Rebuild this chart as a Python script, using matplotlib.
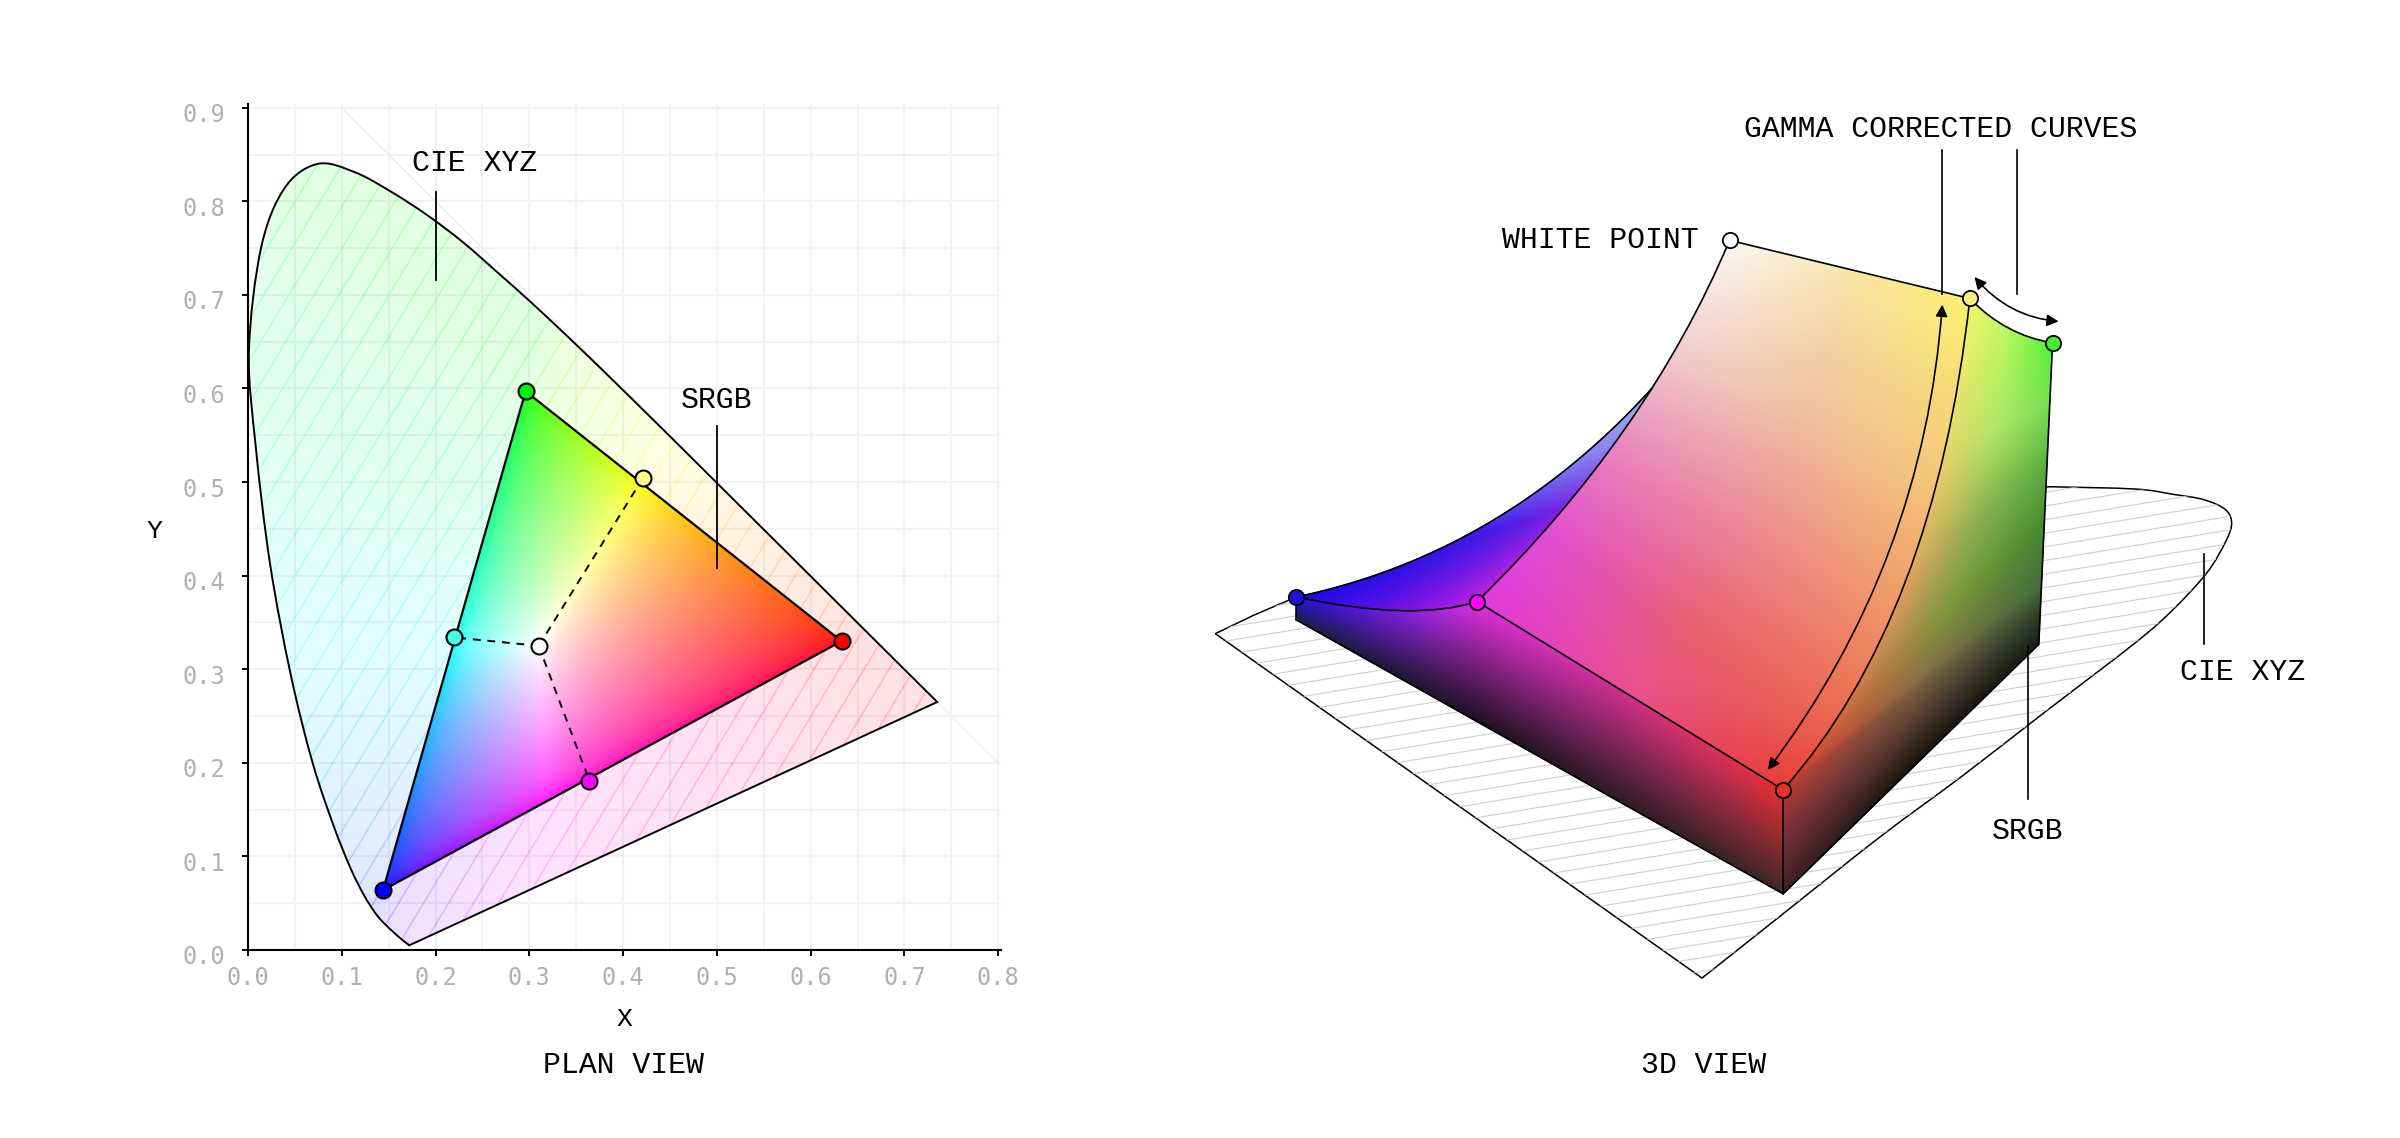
import numpy as np
import matplotlib
matplotlib.use("Agg")
import matplotlib.pyplot as plt
from matplotlib.colors import to_rgb
from matplotlib.path import Path
from matplotlib.patches import PathPatch, Polygon, FancyArrowPatch
from matplotlib.transforms import ScaledTranslation

plt.rcParams['font.family'] = ['Liberation Mono', 'DejaVu Sans Mono']

# plan view, values
locus_x = [0.172, 0.1644, 0.1566, 0.1440, 0.1355, 0.1241, 0.1096, 0.0913, 0.0687, 0.0454, 0.0235, 0.0082, 0.0010,
           0.0139, 0.0389, 0.0743, 0.1142, 0.1547, 0.1929, 0.2296, 0.2658, 0.3016, 0.3373, 0.3731, 0.4087,
           0.4441, 0.4788, 0.5125, 0.5752, 0.6270, 0.6915, 0.7350]
locus_y = [0.005, 0.0109, 0.0177, 0.0297, 0.0399, 0.0578, 0.0868, 0.1327, 0.2007, 0.2950, 0.4127, 0.5384, 0.6400,
           0.7502, 0.8140, 0.8400, 0.8310, 0.8090, 0.7840, 0.7560, 0.7243, 0.6923, 0.6589, 0.6245, 0.5896,
           0.5547, 0.5202, 0.4866, 0.4242, 0.3725, 0.3083, 0.2650]
primary_x = [0.633, 0.296, 0.144]
primary_y = [0.330, 0.597, 0.064]
primary_colors = ['#ff0000', '#00f000', '#0000ff']
white_xy = [0.310, 0.325]
secondary_x = [0.421, 0.220, 0.364]
secondary_y = [0.504, 0.334, 0.181]
secondary_colors = ['#ffff88', '#40ffe8', '#ff00ff']
x_ticks = [0.0, 0.1, 0.2, 0.3, 0.4, 0.5, 0.6, 0.7, 0.8]
y_ticks = [0.0, 0.1, 0.2, 0.3, 0.4, 0.5, 0.6, 0.7, 0.8, 0.9]

# 3D view, corner positions read in picture units (1568 wide)
B = np.array([847.0, 390.0])
M = np.array([965.0, 393.0])
R = np.array([1165.0, 516.0])
Y = np.array([1287.0, 195.0])
G = np.array([1341.0, 224.0])
W = np.array([1130.0, 157.0])
B0 = np.array([847.0, 405.0])
R0 = np.array([1165.0, 584.0])
G0 = np.array([1332.0, 421.0])
C_WM = np.array([1076.0, 285.0])
C_BP = np.array([981.0, 362.0])
C_BM = np.array([924.0, 406.5])
C_RY = np.array([1264.0, 404.0])
C_YG = np.array([1310.0, 219.0])
floor_x = [847, 819, 794, 1112, 1165, 1228, 1282, 1335, 1395, 1420, 1442, 1454, 1458, 1454, 1440, 1420, 1395, 1339]
floor_y = [390, 402, 414, 639, 597, 547, 507, 466, 420, 398, 374, 354, 342, 333, 326.5, 323, 319.5, 318]

# colour stops on the 3D faces, rows run down each face
face_v = [0, 0.3, 0.6, 0.8, 1]
face_left = ['#fdf8f4', '#f0cccc', '#e878c0', '#e04cd8', '#e038e0']
face_mid = ['#f8e4a8', '#f0c0a0', '#ec8090', '#e86070', '#e85090']
face_right = ['#faf070', '#f5c878', '#f09060', '#ec6a50', '#e83c34']
wall_v = [0, 0.2, 0.4, 0.6, 0.8, 0.9, 1]
wall_left = ['#f2f86e', '#e8d868', '#e0a860', '#d08050', '#d84030', '#803038', '#402028']
wall_mid = ['#b8f860', '#b0e868', '#8cb050', '#7c9a3c', '#8a7048', '#5a4030', '#181410']
wall_right = ['#50f038', '#78e050', '#5cb040', '#488a30', '#44703a', '#2e3e2a', '#181c18']


def smooth(px, py):
    # catmull-rom through the read points, as bezier segments
    p = np.column_stack([px, py]).astype(float)
    verts = [p[0]]
    codes = [Path.MOVETO]
    for i in range(len(p) - 1):
        a = p[max(i - 1, 0)]
        b = p[i]
        c = p[i + 1]
        d = p[min(i + 2, len(p) - 1)]
        verts += [b + (c - a) / 6, c - (d - b) / 6, c]
        codes += [Path.CURVE4] * 3
    return Path(np.array(verts), codes)


def closed(path):
    return Path(np.vstack([path.vertices, path.vertices[0]]), list(path.codes) + [Path.CLOSEPOLY])


def bez(p0, c, p1, t):
    t = np.asarray(t)[:, None]
    return (1 - t) ** 2 * p0 + 2 * t * (1 - t) * c + t ** 2 * p1


def grad(pos, hexes, t):
    rgb = np.array([to_rgb(h) for h in hexes])
    return np.column_stack([np.interp(t, pos, rgb[:, k]) for k in range(3)])


def bez_path(p0, c, p1):
    return Path([p0, c, p1], [Path.MOVETO, Path.CURVE3, Path.CURVE3])


def blend(left, right, top=None):
    # mesh between two edges, the top row is pulled onto the top curve
    nr, nc = len(left), 70
    u = np.linspace(0, 1, nc)[None, :, None]
    pts = left[:, None, :] * (1 - u) + right[:, None, :] * u
    if top is not None:
        v = np.linspace(0, 1, nr)[:, None, None]
        pts = pts + (top - pts[0])[None, :, :] * (1 - v) ** 3
    return pts


def mix3(cl, cm, cr):
    u = np.linspace(0, 1, 70)[None, :, None]
    a = np.clip(u * 2, 0, 1)
    b = np.clip(u * 2 - 1, 0, 1)
    return (cl[:, None, :] * (1 - a) + cm[:, None, :] * a) * (1 - b) + cr[:, None, :] * b


fig = plt.figure(figsize=(24, 11.38), dpi=100)

# ---- plan view, axes run a little past the last ticks
ax = fig.add_axes([248 / 2400, 188 / 1138, 753 / 2400, 846 / 1138])
ax.set_xlim(0, 0.803)
ax.set_ylim(0, 0.904)
ax.set_xticks(x_ticks)
ax.set_yticks(y_ticks)
ax.set_xticks(np.arange(0.05, 0.8, 0.1), minor=True)
ax.set_yticks(np.arange(0.05, 0.9, 0.1), minor=True)
ax.grid(which='both', color='#f2f2f2', lw=1.5, zorder=0)
ax.set_axisbelow(True)
ax.tick_params(which='minor', length=0)
ax.tick_params(which='major', length=4.5, width=1.4, color='black', labelsize=17, labelcolor='#b0b0b0')
ax.tick_params(axis='x', which='major', pad=7)
ax.tick_params(axis='y', which='major', pad=12)
ax.set_xticklabels([f"{v:.1f}" for v in x_ticks], family='DejaVu Sans Mono')
ax.set_yticklabels([f"{v:.1f}" for v in y_ticks], family='DejaVu Sans Mono')
for lbl in ax.get_yticklabels():
    lbl.set_transform(lbl.get_transform() + ScaledTranslation(0, -5 / 100, fig.dpi_scale_trans))
for side in ['top', 'right']:
    ax.spines[side].set_visible(False)
for side in ['left', 'bottom']:
    ax.spines[side].set_linewidth(1.5)
ax.plot([0.1, 0.8], [0.9, 0.2], color='#eeeeee', lw=1, zorder=1)

# chromaticity to display colour, the matrix comes from the read primaries
xs = np.linspace(0, 0.803, 1500)
ys = np.linspace(0.0005, 0.904, 1690)
gx, gy = np.meshgrid(xs, ys)
P = np.array([primary_x, primary_y, 1 - np.array(primary_x) - np.array(primary_y)])
wp = np.array([white_xy[0] / white_xy[1], 1, (1 - white_xy[0] - white_xy[1]) / white_xy[1]])
S = np.linalg.solve(P, wp)
to_lin = np.linalg.inv(P * S)
xyz = np.stack([gx / gy, np.ones_like(gx), (1 - gx - gy) / gy], axis=-1)
lin = xyz @ to_lin.T
lin = np.clip(lin, 0, None)
lin = lin / np.maximum(lin.max(axis=-1, keepdims=True), 1e-6)
rgb = lin ** (1 / 2.2)

# pale fill outside the triangle with a hatch of the same colour
d = np.mod(gx * 937 - gy * 937 * 0.6, 25)
stripe = np.clip(1.1 - np.abs(d - 22), 0, 1) + np.clip(1.1 - np.abs(d + 3), 0, 1)
tint = np.dstack([rgb, 0.12 + 0.26 * stripe])
locus_closed = closed(smooth(locus_x, locus_y))
extent = [0, 0.803, 0, 0.904]
im = ax.imshow(tint, extent=extent, origin='lower', aspect='auto', zorder=2, interpolation='bilinear')
clip_patch = PathPatch(locus_closed, fc='none', ec='none', transform=ax.transData)
ax.add_patch(clip_patch)
im.set_clip_path(clip_patch)

tri = np.column_stack([primary_x, primary_y])
tri_im = ax.imshow(rgb, extent=extent, origin='lower', aspect='auto', zorder=3, interpolation='bilinear')
tri_patch = Polygon(tri, closed=True, fc='none', ec='black', lw=1.6, zorder=4)
ax.add_patch(tri_patch)
tri_im.set_clip_path(tri_patch)
ax.add_patch(PathPatch(locus_closed, fc='none', ec='black', lw=1.4, zorder=4))
ax.set_xlim(0, 0.803)
ax.set_ylim(0, 0.904)

for sx, sy in zip(secondary_x, secondary_y):
    ax.plot([white_xy[0], sx], [white_xy[1], sy], color='black', lw=1.4, dashes=(4, 3.5), zorder=5)
for px, py, c in zip(primary_x + secondary_x + [white_xy[0]], primary_y + secondary_y + [white_xy[1]],
                     primary_colors + secondary_colors + ['white']):
    ax.plot(px, py, 'o', ms=11.5, mfc=c, mec='black', mew=1.5, zorder=6, clip_on=False)

ax.plot([0.2, 0.2], [0.81, 0.716], color='black', lw=1.3, zorder=7)
ax.plot([0.5, 0.5], [0.56, 0.408], color='black', lw=1.3, zorder=7)
ax.text(0.242, 0.841, "CIE XYZ", fontsize=21.5, ha='center', va='center', zorder=7)
ax.text(0.5, 0.588, "SRGB", fontsize=21.5, ha='center', va='center', zorder=7)

# ---- 3D view, drawn on an overlay in picture units
ov = fig.add_axes([0, 0, 1, 1], facecolor='none')
ov.set_xlim(0, 1568)
ov.set_ylim(743.5, 0)
ov.axis('off')

fl_main = smooth(floor_x[3:], floor_y[3:])
fl_verts = np.vstack([[[floor_x[0], floor_y[0]], [floor_x[1], floor_y[1]], [floor_x[2], floor_y[2]]], fl_main.vertices,
                      [floor_x[0], floor_y[0]]])
fl_codes = [Path.MOVETO, Path.LINETO, Path.LINETO, Path.LINETO] + list(fl_main.codes[1:]) + [Path.CLOSEPOLY]
floor_patch = PathPatch(Path(fl_verts, fl_codes), fc='white', ec='black', lw=1.1, zorder=1)
ov.add_patch(floor_patch)
for y0 in np.arange(300, 900, 8.9):
    ln, = ov.plot([760, 1500], [y0 + 60 * 0.165, y0 - 680 * 0.165], color='#cfcfcf', lw=0.8, zorder=1.1)
    ln.set_clip_path(floor_patch)

n = 70
t = np.linspace(0, 1, n)
u = np.linspace(0, 1, 70)[None, :, None]

# blue sliver behind the main face
t_wm = np.linspace(1, 0.39, n)
right = bez(W, C_WM, M, t_wm)
P_top = right[-1]
left = bez(B, C_BP, P_top, t)
pts = blend(left, right, bez(B, C_BM, M, t))
cl = grad([0, 0.45, 0.75, 1], ['#1c08e6', '#3a18e8', '#7f7cf0', '#aab8f0'], t)
cr = grad([0, 0.45, 0.75, 1], ['#d020e0', '#7a22e6', '#8f86ee', '#aab8f0'], t)
cols = cl[:, None, :] * (1 - u) + cr[:, None, :] * u
ov.pcolormesh(pts[..., 0], pts[..., 1], cols, shading='gouraud', zorder=2)

# main face white, yellow, red, magenta
pts = blend(bez(W, C_WM, M, t), bez(Y, C_RY, R, t))
cols = mix3(grad(face_v, face_left, t), grad(face_v, face_mid, t), grad(face_v, face_right, t))
ov.pcolormesh(pts[..., 0], pts[..., 1], cols, shading='gouraud', zorder=3)

# front wall
s_m = (M[0] - B[0]) / (R[0] - B[0])
s = np.linspace(0, 1, 70)
top = np.zeros((70, 2))
mask = s <= s_m
top[mask] = bez(B, C_BM, M, s[mask] / s_m)
top[~mask] = M + (R - M) * ((s[~mask] - s_m) / (1 - s_m))[:, None]
bot = B0 + (R0 - B0) * s[:, None]
v = np.linspace(0, 1, 40)[:, None, None]
pts = top[None, :, :] * (1 - v) + bot[None, :, :] * v
ct = grad([0, s_m, 0.65, 0.85, 1], ['#2410e0', '#e030e0', '#d03090', '#e03060', '#e83030'], s)
cb = grad([0, s_m, 1], ['#20204a', '#1c1020', '#402828'], s)
cols = ct[None, :, :] * (1 - v) + cb[None, :, :] * v
ov.pcolormesh(pts[..., 0], pts[..., 1], cols, shading='gouraud', zorder=3)

# right wall
v_r = np.linalg.norm(R - Y) / (np.linalg.norm(R - Y) + np.linalg.norm(R0 - R))
left = np.zeros((n, 2))
mask = t <= v_r
left[mask] = bez(Y, C_RY, R, t[mask] / v_r)
left[~mask] = R + (R0 - R) * ((t[~mask] - v_r) / (1 - v_r))[:, None]
right = G + (G0 - G) * t[:, None]
pts = blend(left, right, bez(Y, C_YG, G, np.linspace(0, 1, 70)))
cols = mix3(grad(wall_v, wall_left, t), grad(wall_v, wall_mid, t), grad(wall_v, wall_right, t))
ov.pcolormesh(pts[..., 0], pts[..., 1], cols, shading='gouraud', zorder=3)
ov.set_xlim(0, 1568)
ov.set_ylim(743.5, 0)

# outlines
lw3 = 1.2
for a, c, b in [(W, C_WM, M), (B, C_BM, M), (R, C_RY, Y), (Y, C_YG, G)]:
    ov.add_patch(PathPatch(bez_path(a, c, b), fc='none', ec='black', lw=lw3, zorder=5))
edge = bez(B, C_BP, P_top, t)
ov.plot(edge[:, 0], edge[:, 1], color='black', lw=lw3, zorder=5)
for a, b in [(W, Y), (G, G0), (G0, R0), (R0, B0), (B0, B), (M, R), (R, R0)]:
    ov.plot([a[0], b[0]], [a[1], b[1]], color='black', lw=lw3, zorder=5, solid_capstyle='round')

# arrows between the curves
arrow_style = '<|-|>,head_length=7,head_width=3.5'
ov.add_patch(FancyArrowPatch(path=bez_path(np.array([1269, 199.0]), np.array([1256.6, 368.0]), np.array([1155, 503.0])),
                             arrowstyle=arrow_style, color='black', lw=1.2, zorder=6, shrinkA=0, shrinkB=0))
ov.add_patch(FancyArrowPatch(path=bez_path(np.array([1290, 181.0]), np.array([1312.0, 207.0]), np.array([1345, 210.0])),
                             arrowstyle=arrow_style, color='black', lw=1.2, zorder=6, shrinkA=0, shrinkB=0))

for p, c in [(B, '#2410e0'), (M, '#ff00ff'), (R, '#e83030'), (Y, '#f8f080'), (G, '#40f030'), (W, 'white')]:
    ov.plot(p[0], p[1], 'o', ms=11, mfc=c, mec='black', mew=1.3, zorder=7)

# callouts
ov.plot([1269, 1269], [98, 192], color='black', lw=1.2, zorder=6)
ov.plot([1318, 1318], [98, 192], color='black', lw=1.2, zorder=6)
ov.plot([1440, 1440], [362, 421], color='black', lw=1.2, zorder=6)
ov.plot([1325, 1325], [422, 522], color='black', lw=1.2, zorder=6)
ov.text(1268, 84, "GAMMA CORRECTED CURVES", fontsize=21.5, ha='center', va='center')
ov.text(1110, 157, "WHITE POINT", fontsize=21.5, ha='right', va='center')
ov.text(1465, 439, "CIE XYZ", fontsize=21.5, ha='center', va='center')
ov.text(1325, 543, "SRGB", fontsize=21.5, ha='center', va='center')
ov.text(1113, 696, "3D VIEW", fontsize=21.5, ha='center', va='center')
ov.text(407, 696, "PLAN VIEW", fontsize=21.5, ha='center', va='center')
ov.text(408, 666, "X", fontsize=19, ha='center', va='center')
ov.text(101, 347, "Y", fontsize=19, ha='center', va='center')

fig.savefig("out.png", dpi=100)
